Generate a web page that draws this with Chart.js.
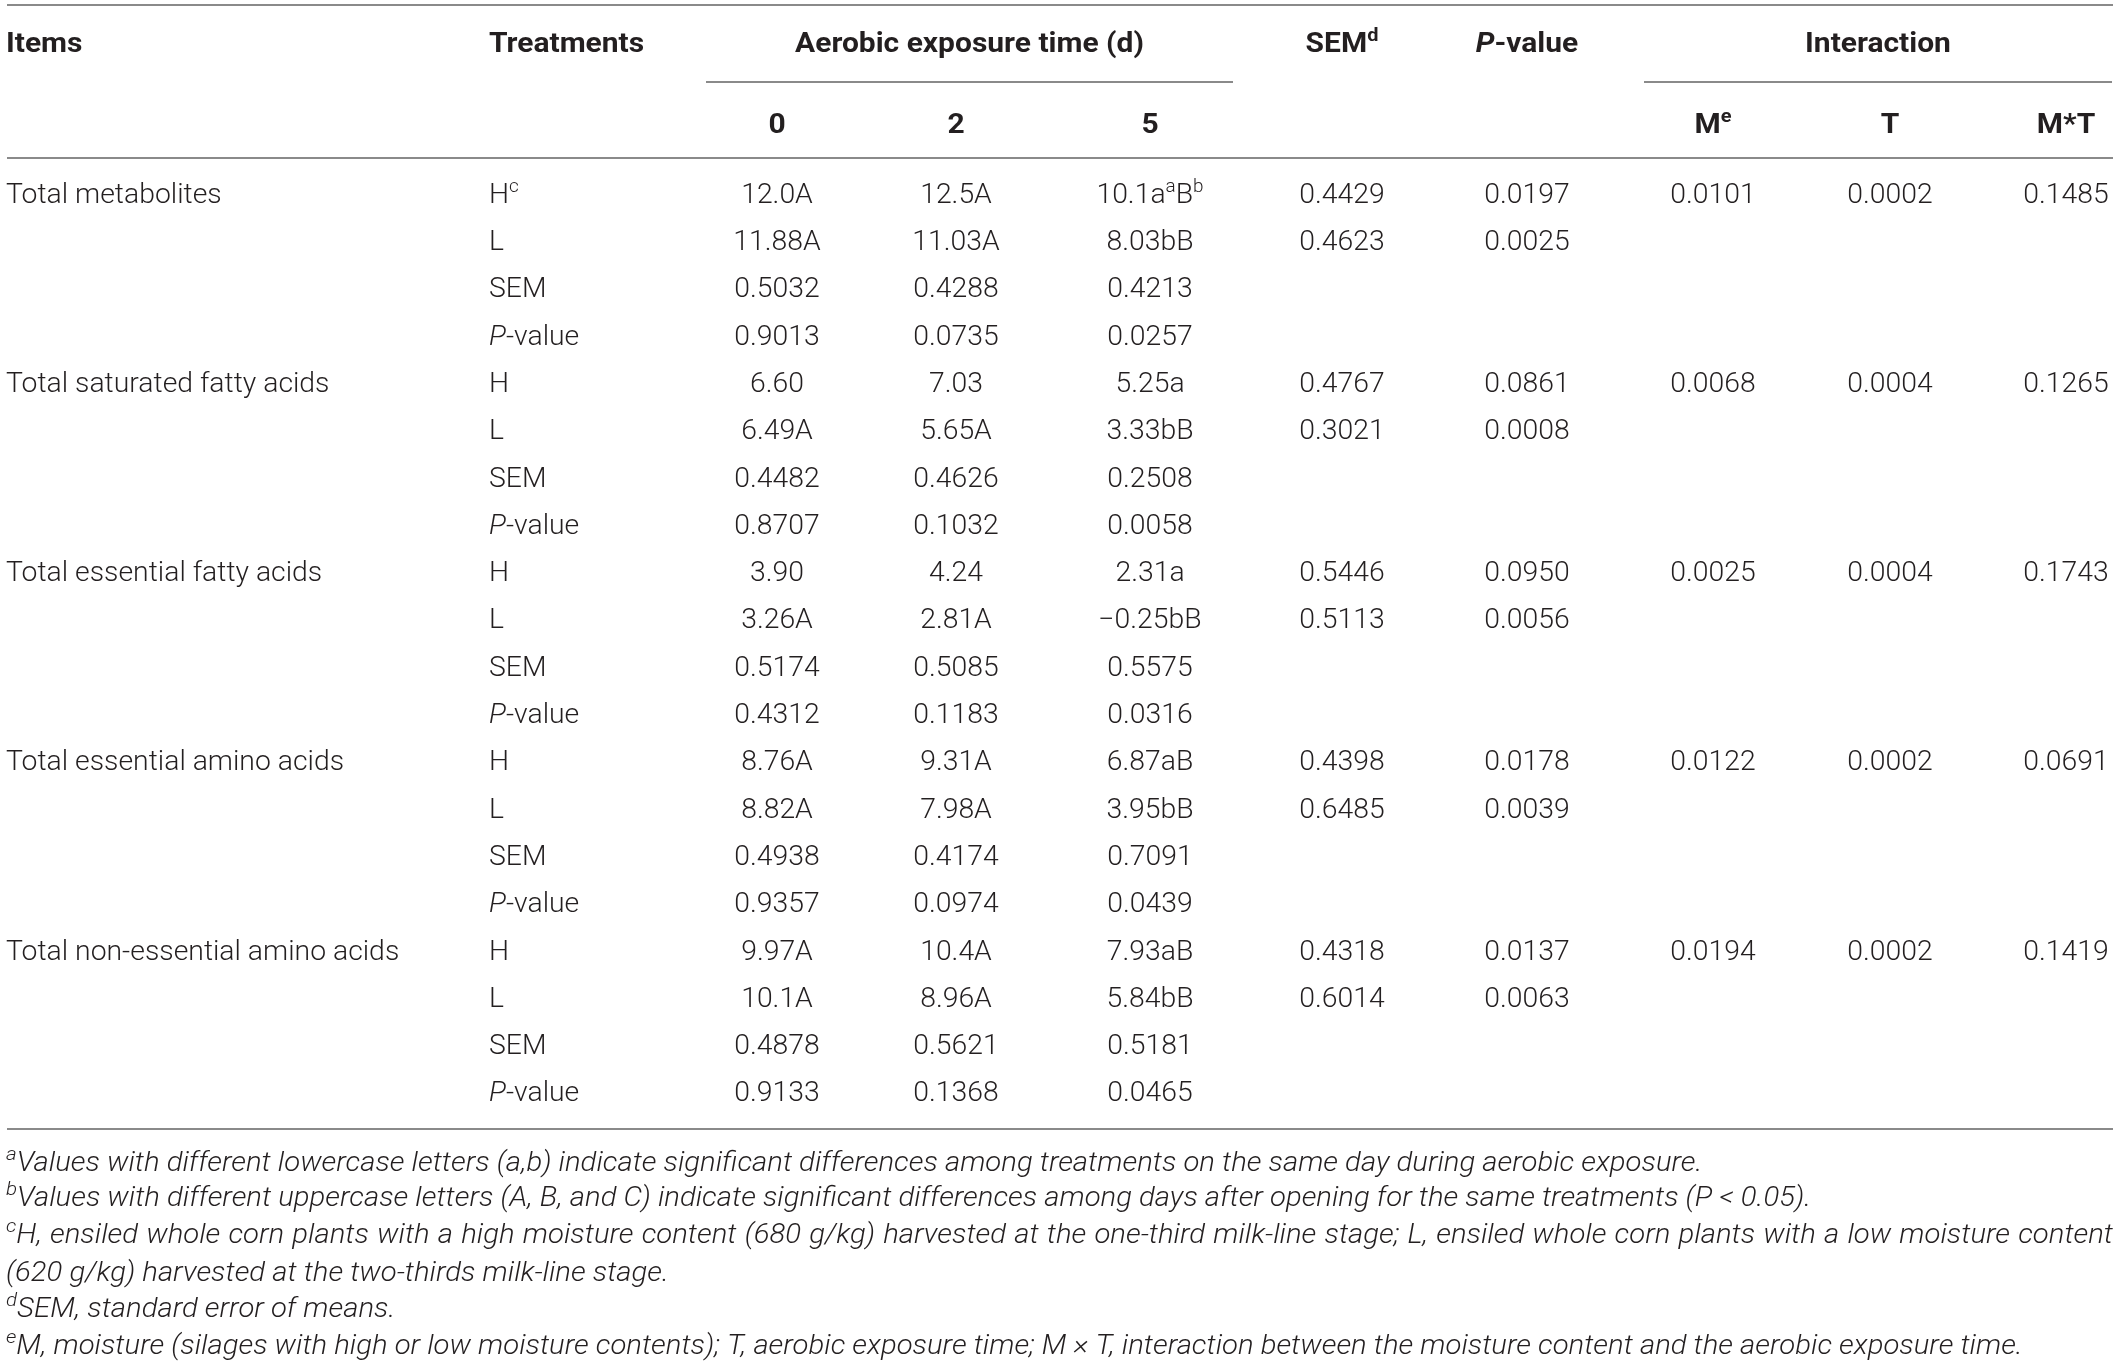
<!DOCTYPE html>
<html>
<head>
<meta charset="utf-8">
<script src="https://cdn.jsdelivr.net/npm/chart.js@4.4.1/dist/chart.umd.min.js"></script>
<style>
  html, body { margin: 0; padding: 0; background: #fff; }
  #table-area { display: block; }
</style>
</head>
<body>
<canvas id="table-area" width="2118" height="1365"></canvas>
<script>
/* Silage metabolites table, drawn on a Chart.js canvas */

// ---- data ----
const items = [
  "Total metabolites",
  "Total saturated fatty acids",
  "Total essential fatty acids",
  "Total essential amino acids",
  "Total non-essential amino acids",
];
const treatments = ["H", "L", "SEM", "|P|-value"];
const days = ["0", "2", "5"];

const day0 = [
  "12.0A", "11.88A", "0.5032", "0.9013",
  "6.60", "6.49A", "0.4482", "0.8707",
  "3.90", "3.26A", "0.5174", "0.4312",
  "8.76A", "8.82A", "0.4938", "0.9357",
  "9.97A", "10.1A", "0.4878", "0.9133",
];
const day2 = [
  "12.5A", "11.03A", "0.4288", "0.0735",
  "7.03", "5.65A", "0.4626", "0.1032",
  "4.24", "2.81A", "0.5085", "0.1183",
  "9.31A", "7.98A", "0.4174", "0.0974",
  "10.4A", "8.96A", "0.5621", "0.1368",
];
const day5 = [
  "10.1a^aB^b", "8.03bB", "0.4213", "0.0257",
  "5.25a", "3.33bB", "0.2508", "0.0058",
  "2.31a", "\u22120.25bB", "0.5575", "0.0316",
  "6.87aB", "3.95bB", "0.7091", "0.0439",
  "7.93aB", "5.84bB", "0.5181", "0.0465",
];
// per item: [H, L]
const semValues = [
  ["0.4429", "0.4623"], ["0.4767", "0.3021"], ["0.5446", "0.5113"],
  ["0.4398", "0.6485"], ["0.4318", "0.6014"],
];
const pValues = [
  ["0.0197", "0.0025"], ["0.0861", "0.0008"], ["0.0950", "0.0056"],
  ["0.0178", "0.0039"], ["0.0137", "0.0063"],
];
const interM = ["0.0101", "0.0068", "0.0025", "0.0122", "0.0194"];
const interT = ["0.0002", "0.0004", "0.0004", "0.0002", "0.0002"];
const interMT = ["0.1485", "0.1265", "0.1743", "0.0691", "0.1419"];

const footnotes = [
  "^aValues with different lowercase letters (a,b) indicate significant differences among treatments on the same day during aerobic exposure.",
  "^bValues with different uppercase letters (A, B, and C) indicate significant differences among days after opening for the same treatments (P < 0.05).",
  "^cH, ensiled whole corn plants with a high moisture content (680 g/kg) harvested at the one-third milk-line stage; L, ensiled whole corn plants with a low moisture content",
  "(620 g/kg) harvested at the two-thirds milk-line stage.",
  "^dSEM, standard error of means.",
  "^eM, moisture (silages with high or low moisture contents); T, aerobic exposure time; M \u00d7 T, interaction between the moisture content and the aerobic exposure time.",
];

// ---- layout ----
const W = 2118, H = 1365;
const FAMILY = "Roboto, 'Liberation Sans', Arial, sans-serif";
const SIZE = 27;
const INK = "#231f20";
const RULE = "#8a8a8a";

const colX = { items: 6, treat: 489, d0: 777, d2: 956, d5: 1150, sem: 1342, p: 1527, m: 1713, t: 1890, mt: 2066 };
const head1Y = 42, head2Y = 123;
const rowY = (i) => 193 + i * 47.3;
const footY = [1161, 1196, 1233, 1271, 1307, 1344];
const footRight = 2113;

const rules = [
  [7, 2113, 5],
  [706, 1233, 82],
  [1644, 2112, 82],
  [7, 2113, 158],
  [7, 2113, 1129],
];

// parse "^x" superscripts and "|...|" italics into runs
function parseRich(text) {
  const runs = [];
  let ital = false, buf = "";
  const flush = () => { if (buf) runs.push({ t: buf, sup: false, ital }); buf = ""; };
  for (let i = 0; i < text.length; i++) {
    const c = text[i];
    if (c === "^") { flush(); runs.push({ t: text[i + 1], sup: true, ital }); i++; }
    else if (c === "|") { flush(); ital = !ital; }
    else buf += c;
  }
  flush();
  return runs;
}

function fontFor(run, base) {
  const style = (run.ital || base.italic) ? "italic " : "";
  const size = run.sup ? Math.round(base.size * base.supScale) : base.size;
  return style + base.weight + " " + size + "px " + FAMILY;
}

// width in unstretched units
function richWidth(ctx, runs, base) {
  let w = 0;
  runs.forEach((r) => { ctx.font = fontFor(r, base); w += ctx.measureText(r.t).width; });
  return w;
}

function drawRich(ctx, text, x, cy, align, base) {
  const runs = parseRich(text);
  const w = richWidth(ctx, runs, base) * base.sx;
  const left = align === "center" ? x - w / 2 : x;
  const baseline = cy + base.size * 0.36;
  ctx.save();
  ctx.translate(left, 0);
  ctx.scale(base.sx, 1);
  ctx.fillStyle = INK;
  ctx.textAlign = "left";
  ctx.textBaseline = "alphabetic";
  let cx = 0;
  runs.forEach((r) => {
    ctx.font = fontFor(r, base);
    ctx.fillText(r.t, cx, r.sup ? baseline - base.size * 0.4 : baseline);
    cx += ctx.measureText(r.t).width;
  });
  ctx.restore();
  return w;
}

// justify a line of words between x0 and x1
function drawJustified(ctx, text, x0, x1, cy, base) {
  const lead = text.startsWith("^") ? text.slice(0, 2) : "";
  const body = lead ? text.slice(2) : text;
  let x = x0;
  if (lead) x += drawRich(ctx, lead, x, cy, "left", base);
  const words = body.split(" ");
  const widths = words.map((w) => richWidth(ctx, parseRich(w), base) * base.sx);
  const total = widths.reduce((a, b) => a + b, 0);
  const gap = (x1 - x - total) / (words.length - 1);
  words.forEach((w, i) => {
    drawRich(ctx, w, x, cy, "left", base);
    x += widths[i] + gap;
  });
}

const tableText = {
  id: "tableText",
  afterDatasetsDraw(chart) {
    const ctx = chart.ctx;
    const xs = chart.scales.x, ys = chart.scales.y;
    const px = (v) => xs.getPixelForValue(v);
    const py = (v) => ys.getPixelForValue(v);
    const bold = { size: SIZE, weight: "bold", italic: false, sx: 1.11, supScale: 0.66 };
    const light = { size: SIZE, weight: "300", italic: false, sx: 1.05, supScale: 0.66 };
    const foot = { size: SIZE, weight: "300", italic: true, sx: 1.085, supScale: 0.72 };
    ctx.save();

    // header
    drawRich(ctx, "Items", px(colX.items), py(head1Y), "left", bold);
    drawRich(ctx, "Treatments", px(colX.treat), py(head1Y), "left", bold);
    drawRich(ctx, "Aerobic exposure time (d)", px((rules[1][0] + rules[1][1]) / 2), py(head1Y), "center", bold);
    drawRich(ctx, "SEM^d", px(colX.sem), py(head1Y), "center", bold);
    drawRich(ctx, "|P|-value", px(colX.p), py(head1Y), "center", bold);
    drawRich(ctx, "Interaction", px((rules[2][0] + rules[2][1]) / 2), py(head1Y), "center", bold);
    [colX.d0, colX.d2, colX.d5].forEach((x, i) => drawRich(ctx, days[i], px(x), py(head2Y), "center", bold));
    drawRich(ctx, "M^e", px(colX.m), py(head2Y), "center", bold);
    drawRich(ctx, "T", px(colX.t), py(head2Y), "center", bold);
    drawRich(ctx, "M*T", px(colX.mt), py(head2Y), "center", bold);

    // body
    items.forEach((item, g) => {
      const r0 = g * treatments.length;
      drawRich(ctx, item, px(colX.items), py(rowY(r0)), "left", light);
      treatments.forEach((t, k) => {
        const r = r0 + k;
        const label = g === 0 && k === 0 ? t + "^c" : t;
        drawRich(ctx, label, px(colX.treat), py(rowY(r)), "left", light);
        drawRich(ctx, day0[r], px(colX.d0), py(rowY(r)), "center", light);
        drawRich(ctx, day2[r], px(colX.d2), py(rowY(r)), "center", light);
        drawRich(ctx, day5[r], px(colX.d5), py(rowY(r)), "center", light);
      });
      semValues[g].forEach((v, k) => drawRich(ctx, v, px(colX.sem), py(rowY(r0 + k)), "center", light));
      pValues[g].forEach((v, k) => drawRich(ctx, v, px(colX.p), py(rowY(r0 + k)), "center", light));
      drawRich(ctx, interM[g], px(colX.m), py(rowY(r0)), "center", light);
      drawRich(ctx, interT[g], px(colX.t), py(rowY(r0)), "center", light);
      drawRich(ctx, interMT[g], px(colX.mt), py(rowY(r0)), "center", light);
    });

    // footnotes
    footnotes.forEach((f, i) => {
      if (i === 2) drawJustified(ctx, f, px(colX.items), px(footRight), py(footY[i]), foot);
      else drawRich(ctx, f, px(colX.items), py(footY[i]), "left", foot);
    });
    ctx.restore();
  },
};

const config = {
  type: "scatter",
  data: {
    datasets: rules.map((r) => ({
      data: [{ x: r[0], y: r[2] }, { x: r[1], y: r[2] }],
      showLine: true,
      borderColor: RULE,
      borderWidth: 2,
      pointRadius: 0,
    })),
  },
  options: {
    responsive: false,
    devicePixelRatio: 1,
    animation: false,
    layout: { padding: 0 },
    plugins: { legend: { display: false }, tooltip: { enabled: false } },
    scales: {
      x: { type: "linear", min: 0, max: W, display: false },
      y: { type: "linear", min: 0, max: H, reverse: true, display: false },
    },
  },
  plugins: [tableText],
};

window.onload = function () {
  const ctx = document.getElementById("table-area").getContext("2d");
  window.myTable = new Chart(ctx, config);
};
</script>
</body>
</html>
